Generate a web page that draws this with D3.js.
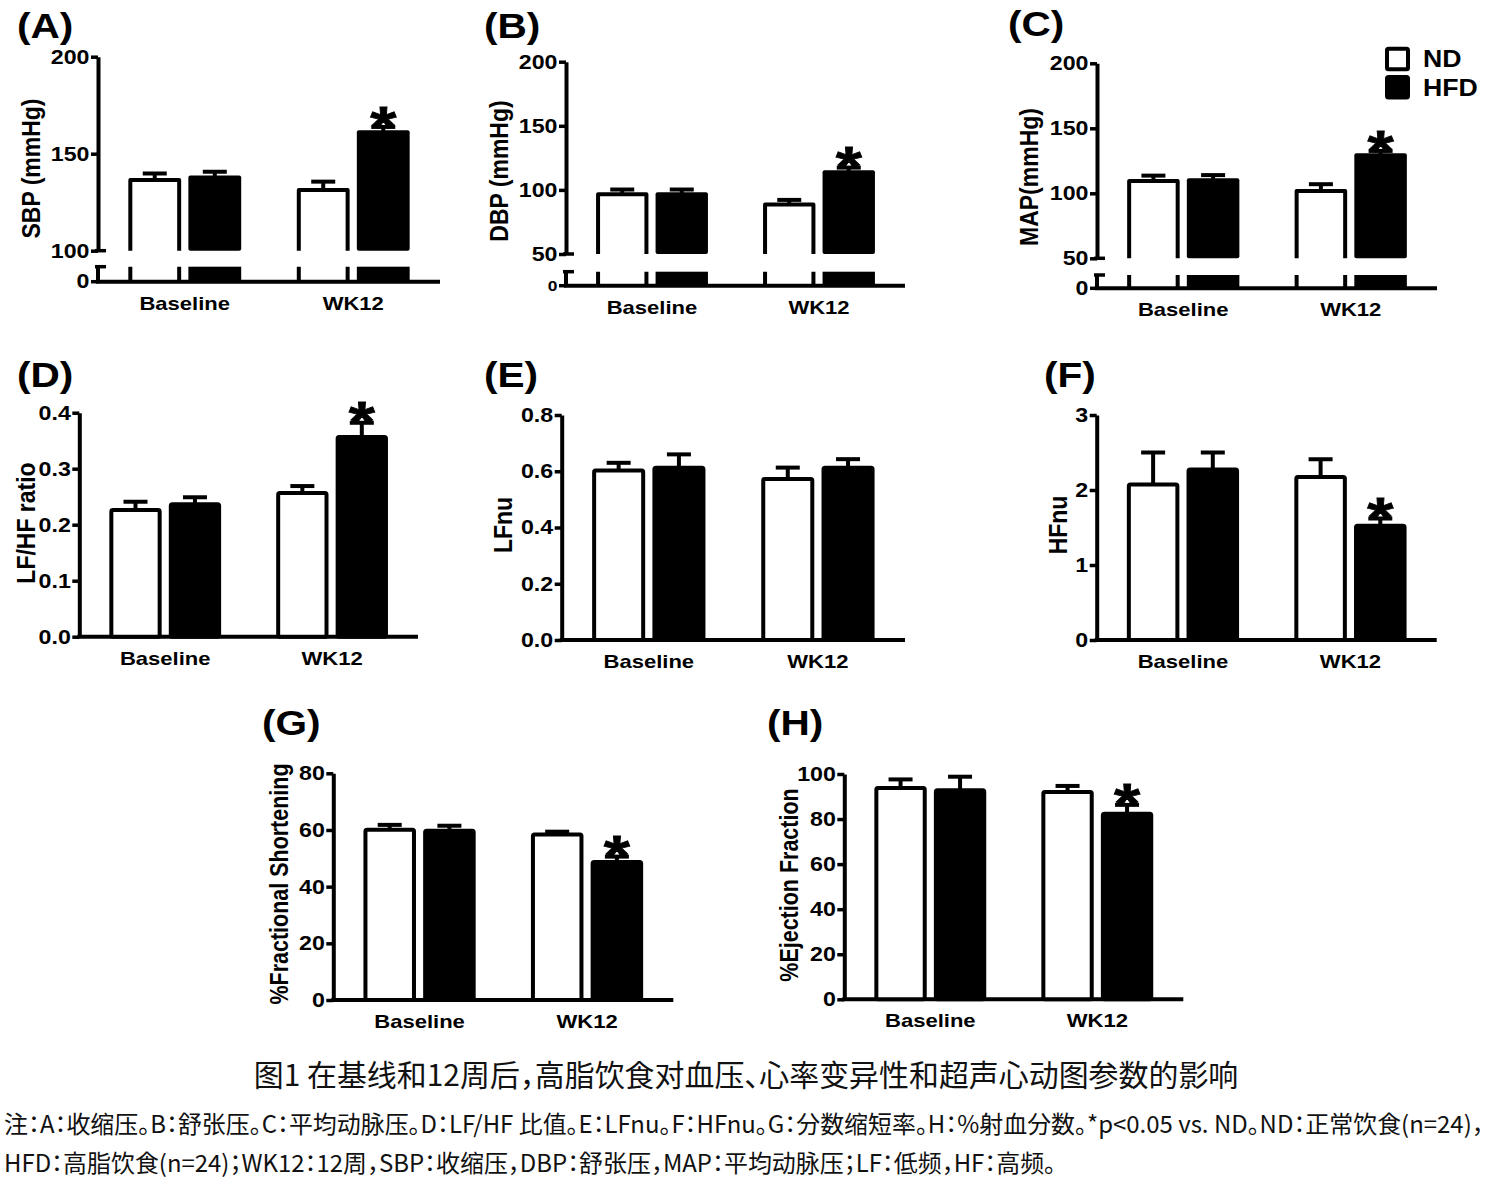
<!DOCTYPE html>
<html><head><meta charset="utf-8">
<script src="https://cdn.jsdelivr.net/npm/d3@7"></script>
<style>body{margin:0;background:#fff} svg{display:block} .cjk{font-feature-settings:"halt" 1;}</style>
</head><body>
<script>
// ---------- DATA ----------
const categories = ["Baseline", "WK12"];
const groups = ["ND", "HFD"];

const sbpND = [137.5, 132.3], sbpNDErr = [2.3, 3.3];
const sbpHFD = [138.8, 162.1], sbpHFDErr = [1.9, 1.7];
const dbpND = [98.2, 90.2], dbpNDErr = [2.1, 2.0];
const dbpHFD = [98.2, 115.3], dbpHFDErr = [2.1, 2.1];
const mapND = [111.0, 103.3], mapNDErr = [2.6, 3.7];
const mapHFD = [111.5, 130.8], mapHFDErr = [2.5, 1.8];
const lfhfND = [0.23, 0.26], lfhfNDErr = [0.011, 0.009];
const lfhfHFD = [0.24, 0.36], lfhfHFDErr = [0.009, 0.022];
const lfnuND = [0.61, 0.58], lfnuNDErr = [0.02, 0.033];
const lfnuHFD = [0.62, 0.62], lfnuHFDErr = [0.04, 0.023];
const hfnuND = [2.1, 2.2], hfnuNDErr = [0.4, 0.21];
const hfnuHFD = [2.3, 1.55], hfnuHFDErr = [0.2, 0.07];
const fsND = [60.8, 59.1], fsNDErr = [1.0, 0.3];
const fsHFD = [60.4, 49.4], fsHFDErr = [1.1, 1.2];
const efND = [94.7, 92.9], efNDErr = [2.9, 1.8];
const efHFD = [93.7, 83.3], efHFDErr = [5.1, 3.0];

const sigYes = [false, true];
const sigNo = [false, false];

const ticksSBP = [100, 150, 200];
const ticksDBP = [50, 100, 150, 200];
const ticksMAP = [50, 100, 150, 200];
const ticksLFHF = [0, 0.1, 0.2, 0.3, 0.4];
const ticksLFnu = [0, 0.2, 0.4, 0.6, 0.8];
const ticksHFnu = [0, 1, 2, 3];
const ticksFS = [0, 20, 40, 60, 80];
const ticksEF = [0, 20, 40, 60, 80, 100];

const panelLetters = ["(A)", "(B)", "(C)", "(D)", "(E)", "(F)", "(G)", "(H)"];
const yTitles = ["SBP (mmHg)", "DBP (mmHg)", "MAP(mmHg)", "LF/HF ratio", "LFnu", "HFnu", "%Fractional Shortening", "%Ejection Fraction"];

const captionText = "图1 在基线和12周后，高脂饮食对血压、心率变异性和超声心动图参数的影响";
const noteLine1 = "注：A：收缩压。B：舒张压。C：平均动脉压。D：LF/HF 比值。E：LFnu。F：HFnu。G：分数缩短率。H：%射血分数。*p<0.05 vs. ND。ND：正常饮食(n=24)，";
const noteLine2 = "HFD：高脂饮食(n=24)；WK12：12周，SBP：收缩压，DBP：舒张压，MAP：平均动脉压；LF：低频，HF：高频。";

// ---------- LAYOUT ----------
const SX = 1.16, SW = 4;
const FONT = '"Liberation Sans", Arial, Helvetica, sans-serif';
const CJK = '"Noto Sans CJK JP", "Noto Sans CJK SC", "Noto Sans", sans-serif';
const f1 = d3.format(".1f"), fd = d3.format("d");
const TICKFS = 20, ASTFS = 58;

const panels = [
  {nd: sbpND, ndErr: sbpNDErr, hfd: sbpHFD, hfdErr: sbpHFDErr, sig: sigYes, domain: [100, 200], ticks: ticksSBP, fmt: fd,
   broken: true, ax: 98, ae: 440, yTop: 56.7, yBreak: 250.7, lowTop: 266.7, y0: 281.7, lx: 17, ly: 37.5, tx: 40, ty: 168.5, tfs: 23},
  {nd: dbpND, ndErr: dbpNDErr, hfd: dbpHFD, hfdErr: dbpHFDErr, sig: sigYes, domain: [50, 200], ticks: ticksDBP, fmt: fd,
   broken: true, ax: 566, ae: 905, yTop: 61.7, yBreak: 254, lowTop: 271.7, y0: 285.7, lx: 484, ly: 37.5, tx: 508, ty: 171, tfs: 23, zeroFs: 15},
  {nd: mapND, ndErr: mapNDErr, hfd: mapHFD, hfdErr: mapHFDErr, sig: sigYes, domain: [50, 200], ticks: ticksMAP, fmt: fd,
   broken: true, ax: 1097, ae: 1437, yTop: 63.3, yBreak: 258.3, lowTop: 275, y0: 288.3, lx: 1008, ly: 36, tx: 1038, ty: 177, tfs: 23, legend: true},
  {nd: lfhfND, ndErr: lfhfNDErr, hfd: lfhfHFD, hfdErr: lfhfHFDErr, sig: sigYes, domain: [0, 0.4], ticks: ticksLFHF, fmt: f1,
   ax: 79.3, ae: 418, yTop: 412.7, y0: 636.7, lx: 17, ly: 386.7, tx: 35, ty: 523, tfs: 23},
  {nd: lfnuND, ndErr: lfnuNDErr, hfd: lfnuHFD, hfdErr: lfnuHFDErr, sig: sigNo, domain: [0, 0.8], ticks: ticksLFnu, fmt: f1,
   ax: 561.7, ae: 905, yTop: 415, y0: 640, lx: 484, ly: 387, tx: 512, ty: 525, tfs: 23},
  {nd: hfnuND, ndErr: hfnuNDErr, hfd: hfnuHFD, hfdErr: hfnuHFDErr, sig: sigYes, domain: [0, 3], ticks: ticksHFnu, fmt: fd,
   ax: 1096.7, ae: 1436.7, yTop: 415, y0: 640, lx: 1044, ly: 387, tx: 1067, ty: 525, tfs: 23},
  {nd: fsND, ndErr: fsNDErr, hfd: fsHFD, hfdErr: fsHFDErr, sig: sigYes, domain: [0, 80], ticks: ticksFS, fmt: fd,
   ax: 333.3, ae: 673.3, yTop: 773.3, y0: 1000, lx: 262, ly: 735, tx: 288, ty: 884, tfs: 21.5},
  {nd: efND, ndErr: efNDErr, hfd: efHFD, hfdErr: efHFDErr, sig: sigYes, domain: [0, 100], ticks: ticksEF, fmt: fd,
   ax: 844.3, ae: 1183.3, yTop: 774, y0: 999.3, lx: 767, ly: 735, tx: 798, ty: 885, tfs: 21.5}
];

const svg = d3.select("body").append("svg").attr("width", 1492).attr("height", 1190);
svg.append("rect").attr("width", 1492).attr("height", 1190).attr("fill", "#fff");

function stext(parent, x, y, str, size, anchor, rot) {
  return parent.append("text")
    .attr("transform", `translate(${x},${y}) scale(${SX},1)${rot ? " rotate(-90)" : ""}`)
    .attr("font-family", FONT).attr("font-weight", "bold").attr("font-size", size)
    .attr("text-anchor", anchor || "start").attr("fill", "#000").text(str);
}

function drawPanel(p, idx) {
  const g = svg.append("g");
  const x0 = d3.scaleBand().domain(categories).range([p.ax, p.ae]).paddingInner(0.33).paddingOuter(0.18);
  const x1 = d3.scaleBand().domain(groups).range([0, x0.bandwidth()]).paddingInner(0.12);
  const y = d3.scaleLinear().domain(p.domain).range([p.broken ? p.yBreak : p.y0, p.yTop]);

  // y axis
  const ya = g.append("g").attr("transform", `translate(${p.ax},0)`)
    .call(d3.axisLeft(y).tickValues(p.ticks).tickFormat(p.fmt).tickSize(7).tickSizeOuter(0).tickPadding(3));
  ya.select(".domain").attr("stroke", "#000").attr("stroke-width", SW);
  ya.selectAll(".tick line").attr("stroke", "#000").attr("stroke-width", 3.5);
  ya.selectAll(".tick text").attr("font-family", FONT).attr("font-weight", "bold").attr("font-size", TICKFS)
    .attr("fill", "#000").attr("x", -8.5 / SX).attr("transform", `scale(${SX},1)`);

  if (p.broken) {
    const lg = g.append("g").attr("stroke", "#000");
    lg.append("line").attr("x1", p.ax - 3).attr("x2", p.ax + 8).attr("y1", p.yBreak).attr("y2", p.yBreak).attr("stroke-width", 3.5);
    lg.append("line").attr("x1", p.ax - 3).attr("x2", p.ax + 8).attr("y1", p.lowTop).attr("y2", p.lowTop).attr("stroke-width", 3.5);
    lg.append("line").attr("x1", p.ax).attr("x2", p.ax).attr("y1", p.lowTop).attr("y2", p.y0).attr("stroke-width", SW);
    lg.append("line").attr("x1", p.ax - 7).attr("x2", p.ax).attr("y1", p.y0).attr("y2", p.y0).attr("stroke-width", 3.5);
    g.append("text").attr("transform", `translate(${p.ax - 8.5},${p.y0}) scale(${SX},1)`)
      .attr("dy", "0.32em").attr("text-anchor", "end").attr("font-family", FONT).attr("font-weight", "bold")
      .attr("font-size", p.zeroFs || TICKFS).text("0");
  }

  // x axis
  const xa = g.append("g").attr("transform", `translate(0,${p.y0})`)
    .call(d3.axisBottom(x0).tickSize(0).tickSizeOuter(0));
  xa.select(".domain").attr("d", `M${p.ax - 2},0H${p.ae}`).attr("stroke", "#000").attr("stroke-width", SW);
  xa.selectAll(".tick text").attr("y", 28).attr("dy", null).attr("transform", `scale(${SX},1)`)
    .attr("font-family", FONT).attr("font-weight", "bold").attr("font-size", 19).attr("fill", "#000");

  // bars
  const rows = categories.map((c, i) => ({
    c, sig: p.sig[i],
    items: [{g: "ND", v: p.nd[i], e: p.ndErr[i]}, {g: "HFD", v: p.hfd[i], e: p.hfdErr[i]}]
  }));
  const bw = x1.bandwidth();
  rows.forEach(r => {
    r.items.forEach(it => {
      const bx = x0(r.c) + x1(it.g);
      const left = bx + SW / 2, right = bx + bw - SW / 2, top = y(it.v), cx = bx + bw / 2;
      const capY = y(it.v + it.e);
      const black = it.g === "HFD";
      g.append("line").attr("x1", cx).attr("x2", cx).attr("y1", top + 2).attr("y2", capY)
        .attr("stroke", "#000").attr("stroke-width", SW);
      g.append("line").attr("x1", cx - 12).attr("x2", cx + 12).attr("y1", capY).attr("y2", capY)
        .attr("stroke", "#000").attr("stroke-width", SW);
      if (p.broken) {
        if (black) {
          g.append("rect").attr("x", bx).attr("y", top).attr("width", bw).attr("height", p.yBreak - top)
            .attr("fill", "#000").attr("rx", 2);
          g.append("rect").attr("x", bx).attr("y", p.lowTop).attr("width", bw).attr("height", p.y0 - p.lowTop).attr("fill", "#000");
        } else {
          g.append("path").attr("d", `M${left},${p.yBreak}V${top + SW / 2}H${right}V${p.yBreak}`)
            .attr("fill", "#fff").attr("stroke", "#000").attr("stroke-width", SW).attr("stroke-linejoin", "round");
          g.append("path").attr("d", `M${left},${p.lowTop}V${p.y0}M${right},${p.lowTop}V${p.y0}`)
            .attr("fill", "none").attr("stroke", "#000").attr("stroke-width", SW);
        }
      } else {
        g.append("rect").attr("x", left).attr("y", top + SW / 2).attr("width", right - left)
          .attr("height", p.y0 - top - SW / 2).attr("rx", 1.5)
          .attr("fill", black ? "#000" : "#fff").attr("stroke", "#000").attr("stroke-width", SW);
      }
      if (black && r.sig) {
        stext(g, cx, capY - SW / 2 - 1 + 0.39 * ASTFS, "*", ASTFS, "middle")
          .attr("stroke", "#000").attr("stroke-width", 0.8);
      }
    });
  });

  stext(g, p.lx, p.ly, panelLetters[idx], 35, "start");
  stext(g, p.tx, p.ty, yTitles[idx], p.tfs, "middle", true);

  if (p.legend) {
    const lg = g.append("g");
    groups.forEach((gr, k) => {
      const yy = k === 0 ? 48.7 : 77;
      lg.append("rect").attr("x", 1387).attr("y", yy).attr("width", 21).attr("height", 20.5).attr("rx", 1.5)
        .attr("fill", gr === "HFD" ? "#000" : "#fff").attr("stroke", "#000").attr("stroke-width", SW);
      stext(lg, 1423, yy + 18.5, gr, 23, "start");
    });
  }
}

panels.forEach(drawPanel);

// caption and notes
const cap = svg.append("text").attr("class", "cjk").attr("x", 746).attr("y", 1086).attr("text-anchor", "middle")
  .attr("font-family", CJK).attr("font-size", 28).attr("fill", "#111").text(captionText);
let cw = cap.node().getComputedTextLength();
if (cw > 0) cap.attr("font-size", 28 * 985 / cw);

const n1 = svg.append("text").attr("class", "cjk").attr("x", 4).attr("y", 1133).attr("font-family", CJK).attr("font-size", 21).attr("fill", "#111").text(noteLine1);
const n2 = svg.append("text").attr("class", "cjk").attr("x", 4).attr("y", 1172).attr("font-family", CJK).attr("font-size", 21).attr("fill", "#111").text(noteLine2);
let nw = n1.node().getComputedTextLength();
if (nw > 0) { const fsz = 21 * 1481 / nw; n1.attr("font-size", fsz); n2.attr("font-size", fsz); }
</script>
</body></html>
